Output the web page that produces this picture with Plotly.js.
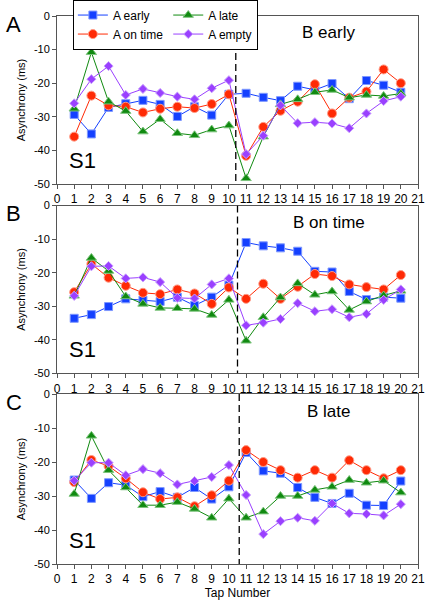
<!DOCTYPE html>
<html>
<head>
<meta charset="utf-8">
<script src="https://cdn.plot.ly/plotly-3.0.1.min.js"></script>
<style>html,body{margin:0;padding:0;background:#fff;}#chart{width:427px;height:600px;}</style>
</head>
<body>
<div id="chart"></div>
<script>
// ---- data ----
const taps = [1,2,3,4,5,6,7,8,9,10,11,12,13,14,15,16,17,18,19,20];
const seriesNames = ["A early", "A on time", "A late", "A empty"];
const panelLabels = ["A", "B", "C"];
const panelTitles = ["B early", "B on time", "B late"];
const yTickVals = [0, -10, -20, -30, -40, -50];
const yTickText = ["0", "-10", "-20", "-30", "-40", "-50"];
const xTickVals = [0,1,2,3,4,5,6,7,8,9,10,11,12,13,14,15,16,17,18,19,20,21];

// Panel A (B early)
const aEarly_A  = [-29.3,-35.1,-27.2,-26.1,-25.1,-26.3,-29.9,-27.0,-29.5,-23.3,-23.0,-24.2,-25.2,-20.9,-22.0,-20.1,-24.6,-19.2,-20.6,-22.7];
const aOnTime_A = [-35.9,-23.7,-26.6,-27.0,-28.7,-27.6,-27.0,-27.4,-26.2,-23.3,-41.6,-33.0,-28.2,-25.5,-20.3,-29.0,-24.3,-22.5,-15.9,-20.0];
const aLate_A   = [-27.6,-10.8,-25.5,-28.3,-34.4,-30.7,-34.9,-35.5,-33.8,-32.6,-48.3,-35.9,-26.3,-24.8,-22.7,-22.0,-24.3,-23.5,-23.8,-23.1];
const aEmpty_A  = [-26.0,-18.8,-14.9,-23.5,-21.7,-22.9,-24.0,-24.8,-21.5,-19.1,-41.1,-35.6,-26.6,-31.9,-31.6,-32.0,-33.4,-29.0,-25.3,-24.0];

// Panel B (B on time)
const aEarly_B  = [-33.6,-32.5,-30.1,-27.8,-28.2,-28.6,-27.3,-29.8,-27.3,-23.7,-11.0,-12.0,-12.6,-13.6,-19.6,-19.8,-25.6,-28.0,-27.3,-27.6];
const aOnTime_B = [-25.8,-17.4,-21.5,-23.9,-26.0,-26.4,-25.0,-26.2,-29.3,-24.4,-27.8,-23.3,-27.8,-24.2,-20.4,-21.0,-23.5,-24.3,-25.0,-20.7];
const aLate_B   = [-26.9,-15.6,-19.5,-27.1,-29.3,-30.5,-30.6,-30.8,-32.6,-28.1,-40.3,-33.3,-27.4,-23.2,-26.6,-25.6,-31.1,-28.6,-26.8,-25.4];
const aEmpty_B  = [-26.9,-18.1,-18.0,-21.7,-21.4,-22.8,-27.5,-27.7,-23.5,-21.7,-35.7,-34.9,-33.8,-29.1,-31.5,-30.9,-33.3,-32.3,-28.1,-25.0];

// Panel C (B late)
const aEarly_C  = [-25.3,-30.7,-26.1,-26.8,-30.2,-28.7,-30.4,-27.5,-30.9,-27.3,-17.2,-22.6,-23.3,-27.5,-30.4,-32.2,-29.2,-32.7,-32.8,-25.6];
const aOnTime_C = [-25.9,-19.4,-21.2,-24.8,-28.9,-30.9,-30.4,-33.0,-29.8,-25.5,-16.5,-20.0,-22.4,-24.6,-22.4,-24.6,-19.5,-22.4,-24.8,-22.4];
const aLate_C   = [-29.4,-12.3,-22.4,-27.5,-32.7,-32.7,-31.8,-33.8,-36.4,-30.8,-36.4,-34.6,-30.0,-30.0,-28.2,-27.3,-25.3,-26.1,-25.5,-29.0];
const aEmpty_C  = [-25.5,-20.2,-20.2,-23.9,-22.1,-23.3,-26.6,-25.6,-24.4,-20.9,-29.7,-41.2,-37.4,-36.4,-37.3,-32.2,-35.1,-35.3,-35.7,-32.4];

// switch tap for each panel (dashed line position)
const switchTaps = [10.4, 10.5, 10.6];
const switchTopA = -11;

// ---- styles ----
const FONT = "'Liberation Sans', Arial, Helvetica, sans-serif";
const styles = [
  {color:'#1440ff', edge:'#7f98ff', symbol:'square', size:8, group:'g1'},
  {color:'#ff2a05', edge:'#ff9a85', symbol:'circle', size:9, group:'g1'},
  {color:'#108a10', edge:'#7cc47c', symbol:'triangle-up', size:9, group:'g2'},
  {color:'#9a40ff', edge:'#c9a0ff', symbol:'diamond', size:7, group:'g2'}
];

const panels = [
  [aEarly_A, aOnTime_A, aLate_A, aEmpty_A],
  [aEarly_B, aOnTime_B, aLate_B, aEmpty_B],
  [aEarly_C, aOnTime_C, aLate_C, aEmpty_C]
];

const traces = [];
panels.forEach((series, p) => {
  const sfx = p === 0 ? '' : String(p + 1);
  series.forEach((vals, s) => {
    const st = styles[s];
    traces.push({
      type: 'scatter', mode: 'lines+markers',
      x: taps, y: vals,
      xaxis: 'x' + sfx, yaxis: 'y' + sfx,
      name: seriesNames[s],
      legendgroup: st.group,
      showlegend: p === 0,
      line: {color: st.color, width: 1},
      marker: {symbol: st.symbol, size: st.size, color: st.color, line: {color: st.edge, width: 1}}
    });
  });
});

const domains = [[0.6934, 1.0], [0.348, 0.654], [0.0, 0.3102]];
const layout = {
  width: 427, height: 600,
  margin: {l: 57, r: 9, t: 16, b: 36, autoexpand: false},
  paper_bgcolor: '#fff', plot_bgcolor: '#fff',
  font: {family: FONT, color: '#000', size: 12},
  showlegend: true,
  legend: {
    orientation: 'h', traceorder: 'grouped',
    x: 0.044, xanchor: 'left', y: 1.03, yanchor: 'top',
    bgcolor: '#fff', bordercolor: '#000', borderwidth: 1,
    font: {family: FONT, size: 12, color: '#000'},
    tracegroupgap: 0, itemwidth: 30
  },
  annotations: [],
  shapes: []
};

for (let p = 0; p < 3; p++) {
  const sfx = p === 0 ? '' : String(p + 1);
  layout['xaxis' + sfx] = {
    domain: [0, 1], anchor: 'y' + sfx, range: [0, 21], automargin: false,
    tickmode: 'array', tickvals: xTickVals,
    ticks: 'outside', ticklen: 4, tickcolor: '#555', tickwidth: 1,
    showline: true, mirror: true, linecolor: '#555', linewidth: 1,
    showgrid: false, zeroline: false,
    tickfont: {family: FONT, size: 12, color: '#000'},
    title: p === 2 ? {text: 'Tap Number', font: {family: FONT, size: 12, color: '#000'}, standoff: 2} : {text: ''}
  };
  layout['yaxis' + sfx] = {
    domain: domains[p], anchor: 'x' + sfx, range: [-50, 0], automargin: false,
    tickmode: 'array', tickvals: yTickVals, ticktext: yTickText,
    ticks: 'outside', ticklen: 4, tickcolor: '#555', tickwidth: 1,
    showline: true, mirror: true, linecolor: '#555', linewidth: 1,
    showgrid: false, zeroline: false,
    tickfont: {family: FONT, size: 11, color: '#000'},
    title: {text: 'Asynchrony (ms)', font: {family: FONT, size: 11, color: '#000'}, standoff: 6}
  };
  // panel letter
  layout.annotations.push({
    text: panelLabels[p], xref: 'paper', yref: 'y' + sfx + ' domain',
    x: -0.12, y: 0.95, xanchor: 'center', yanchor: 'middle',
    showarrow: false, font: {family: FONT, size: 22, color: '#000'}
  });
  // S1
  layout.annotations.push({
    text: 'S1', xref: 'x' + sfx, yref: 'y' + sfx, x: 1.5, y: -43,
    xanchor: 'center', yanchor: 'middle', showarrow: false,
    font: {family: FONT, size: 22, color: '#000'}
  });
  // condition label
  layout.annotations.push({
    text: panelTitles[p], xref: 'x' + sfx, yref: 'y' + sfx, x: 15.8, y: -5,
    xanchor: 'center', yanchor: 'middle', showarrow: false,
    font: {family: FONT, size: 17, color: '#000'}
  });
  // dashed switch line
  layout.shapes.push({
    type: 'line', xref: 'x' + sfx, yref: 'y' + sfx,
    x0: switchTaps[p], x1: switchTaps[p], y0: p === 0 ? switchTopA : 0, y1: -50,
    line: {color: '#000', width: 1.3, dash: '7px,4px'}, layer: 'above'
  });
}

Plotly.newPlot('chart', traces, layout, {displayModeBar: false, staticPlot: true});
</script>
</body>
</html>
